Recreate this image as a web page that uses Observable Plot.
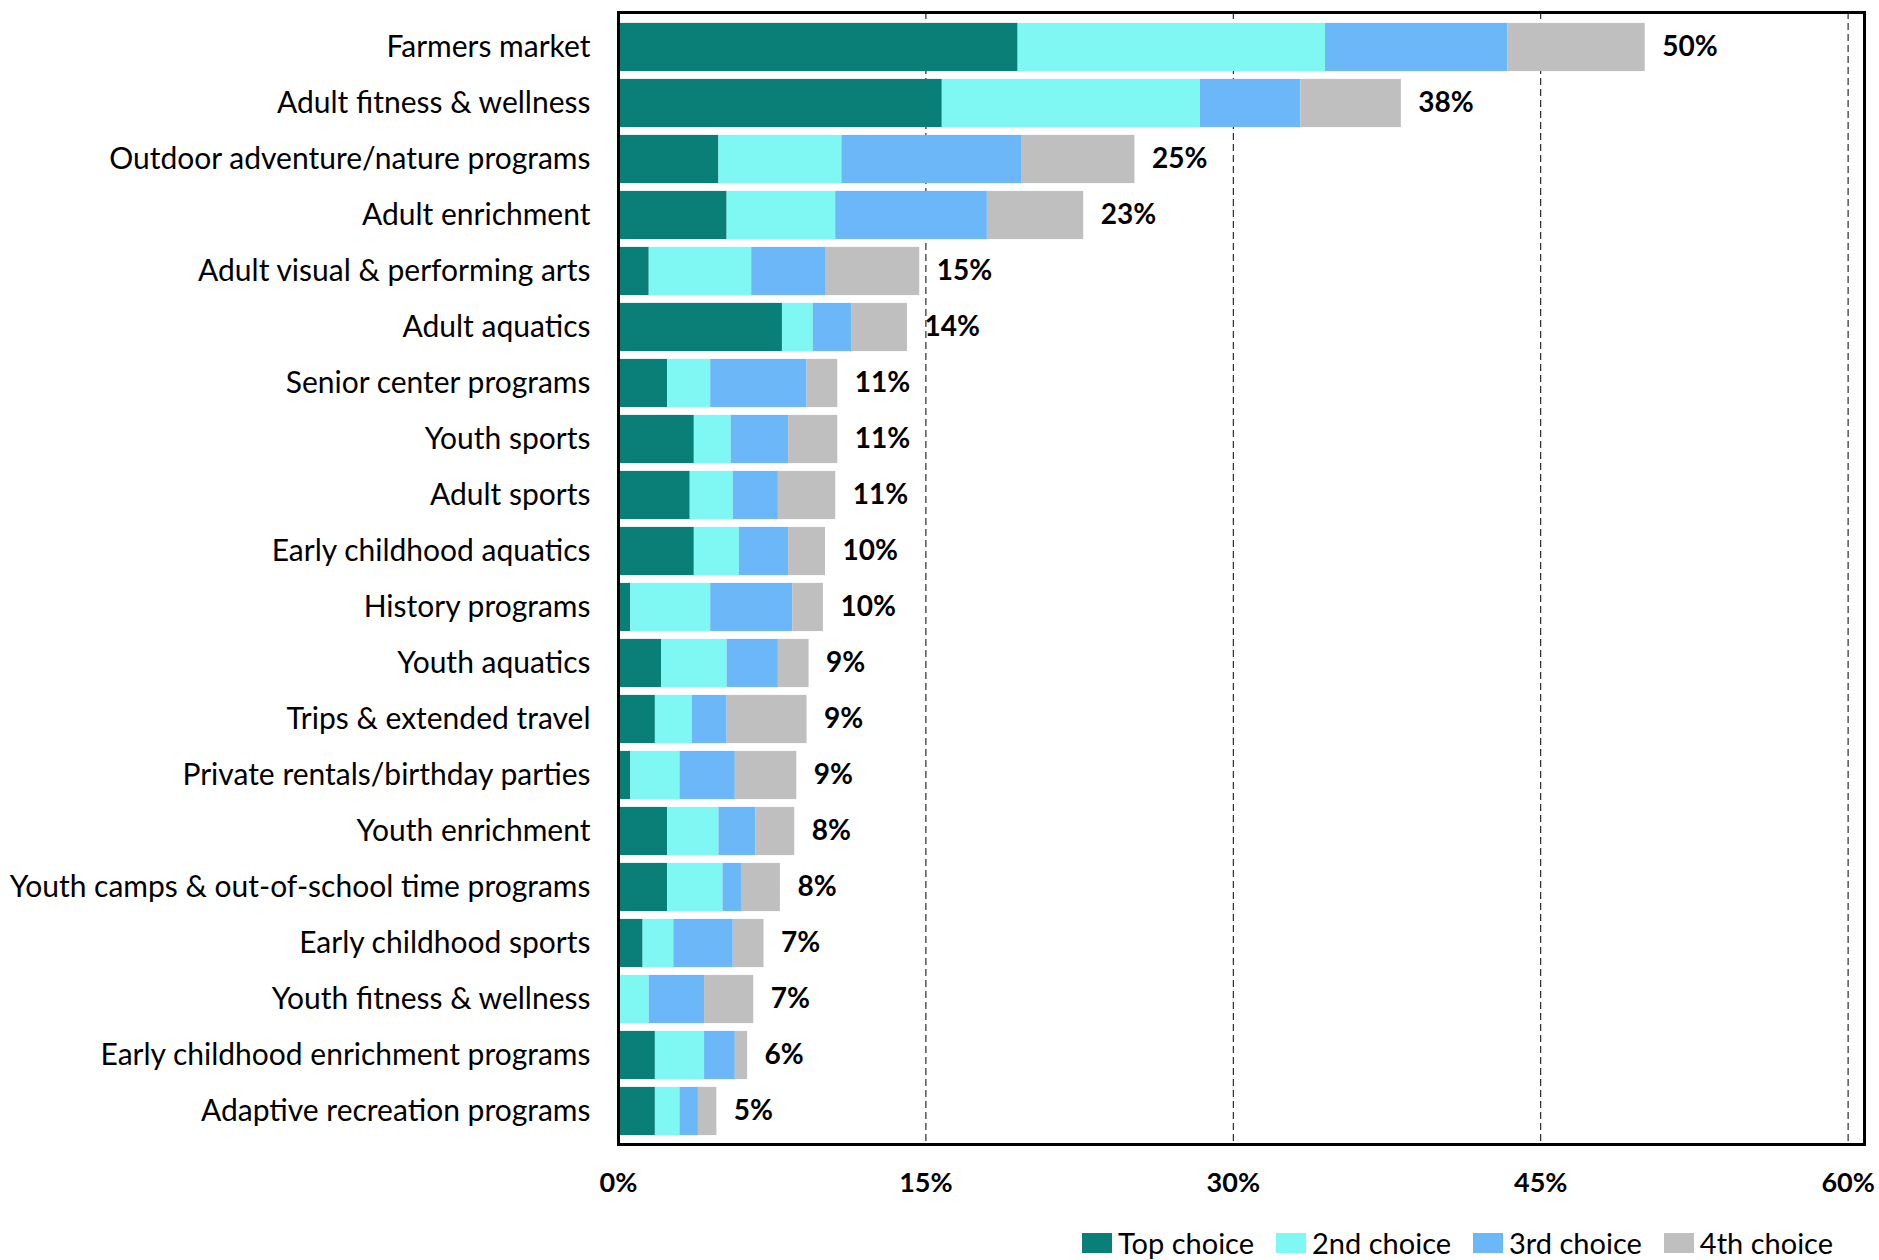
<!DOCTYPE html>
<html>
<head>
<meta charset="utf-8">
<script src="https://cdn.jsdelivr.net/npm/d3@7"></script>
<script src="https://cdn.jsdelivr.net/npm/@observablehq/plot@0.6"></script>
<style>
  html, body { margin: 0; padding: 0; background: #fff; }
  body { width: 1879px; height: 1260px; overflow: hidden; font-family: Lato, "Open Sans", sans-serif; }
  #legend { display: flex; justify-content: flex-end; gap: 22px; padding-right: 46px; margin-top: 10px; font-size: 29px; color: #000; }
  #legend .item { display: flex; align-items: center; gap: 6px; }
  #legend .sw { width: 30px; height: 20px; display: inline-block; }
</style>
</head>
<body>
<div id="chart"></div>
<div id="legend"></div>
<script>
const categories = [
  "Farmers market",
  "Adult fitness & wellness",
  "Outdoor adventure/nature programs",
  "Adult enrichment",
  "Adult visual & performing arts",
  "Adult aquatics",
  "Senior center programs",
  "Youth sports",
  "Adult sports",
  "Early childhood aquatics",
  "History programs",
  "Youth aquatics",
  "Trips & extended travel",
  "Private rentals/birthday parties",
  "Youth enrichment",
  "Youth camps & out-of-school time programs",
  "Early childhood sports",
  "Youth fitness & wellness",
  "Early childhood enrichment programs",
  "Adaptive recreation programs"
];
const choices = ["Top choice", "2nd choice", "3rd choice", "4th choice"];
const colors = ["#0a7f78", "#7ff8f4", "#6cb7f7", "#bfbfbf"];
const topChoice    = [19.5, 15.8, 4.9, 5.3, 1.5, 8.0, 2.4, 3.7, 3.5, 3.7, 0.6, 2.1, 1.8, 0.6, 2.4, 2.4, 1.2, 0.0, 1.8, 1.8];
const secondChoice = [15.0, 12.6, 6.0, 5.3, 5.0, 1.5, 2.1, 1.8, 2.1, 2.2, 3.9, 3.2, 1.8, 2.4, 2.5, 2.7, 1.5, 1.5, 2.4, 1.2];
const thirdChoice  = [ 8.9,  4.9, 8.8, 7.4, 3.6, 1.9, 4.7, 2.8, 2.2, 2.4, 4.0, 2.5, 1.7, 2.7, 1.8, 0.9, 2.9, 2.7, 1.5, 0.9];
const fourthChoice = [ 6.7,  4.9, 5.5, 4.7, 4.6, 2.7, 1.5, 2.4, 2.8, 1.8, 1.5, 1.5, 3.9, 3.0, 1.9, 1.9, 1.5, 2.4, 0.6, 0.9];
const totalLabels  = ["50%", "38%", "25%", "23%", "15%", "14%", "11%", "11%", "11%", "10%", "10%", "9%", "9%", "9%", "8%", "8%", "7%", "7%", "6%", "5%"];
const xTicks = [0, 15, 30, 45, 60];
const gridTicks = [15, 30, 45, 60];

const series = [topChoice, secondChoice, thirdChoice, fourthChoice];
const rows = [];
categories.forEach((c, i) => {
  choices.forEach((ch, j) => rows.push({category: c, choice: ch, value: series[j][i]}));
});
const totals = categories.map((c, i) => ({
  category: c,
  total: series.reduce((s, arr) => s + arr[i], 0),
  label: totalLabels[i]
}));

const font = "Lato, 'Open Sans', sans-serif";
const chart = Plot.plot({
  width: 1879,
  height: 1215,
  marginTop: 12,
  marginBottom: 69,
  marginLeft: 618,
  marginRight: 15,
  style: {fontFamily: font, background: "#fff", color: "#000"},
  x: {domain: [0, 60.8]},
  y: {domain: categories, padding: 0},
  color: {domain: choices, range: colors},
  marks: [
    Plot.ruleX(gridTicks, {stroke: "#000", strokeWidth: 1, strokeDasharray: "7,4"}),
    Plot.barX(rows, {x: "value", y: "category", fill: "choice", order: choices, insetTop: 3.9, insetBottom: 3.9}),
    Plot.text(totals, {x: "total", y: "category", text: "label", textAnchor: "start", dx: 17, fontSize: 28, fontWeight: "bold", fill: "#000"}),
    Plot.frame({stroke: "#000", strokeWidth: 3, insetBottom: 2}),
    Plot.axisY({tickSize: 0, tickPadding: 28, fontSize: 30, label: null}),
    Plot.axisX({ticks: xTicks, tickFormat: d => d + "%", tickSize: 0, tickPadding: 26, fontSize: 27, fontWeight: "bold", label: null})
  ]
});
document.getElementById("chart").appendChild(chart);

const legend = document.getElementById("legend");
choices.forEach((ch, j) => {
  const item = document.createElement("div");
  item.className = "item";
  const sw = document.createElement("span");
  sw.className = "sw";
  sw.style.background = colors[j];
  const t = document.createElement("span");
  t.textContent = ch;
  item.appendChild(sw);
  item.appendChild(t);
  legend.appendChild(item);
});
</script>
</body>
</html>
